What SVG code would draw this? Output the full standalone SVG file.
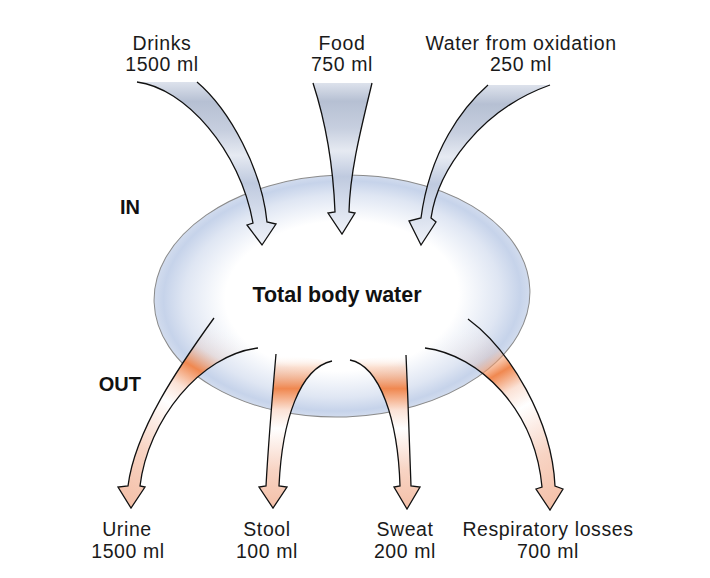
<svg xmlns="http://www.w3.org/2000/svg" width="710" height="578" viewBox="0 0 710 578">
<defs>
<radialGradient id="gBody" cx="0.5" cy="0.5" r="0.5">
<stop offset="0" stop-color="#ffffff"/>
<stop offset="0.62" stop-color="#ffffff"/>
<stop offset="0.84" stop-color="#dfe6f3"/>
<stop offset="0.95" stop-color="#c6d3ea"/>
<stop offset="1" stop-color="#d2dcee"/>
</radialGradient>
<linearGradient id="gIn" x1="0" y1="0" x2="0" y2="1">
<stop offset="0" stop-color="#dde2ec"/>
<stop offset="0.12" stop-color="#b6c0d3"/>
<stop offset="0.3" stop-color="#c7cfdf"/>
<stop offset="0.45" stop-color="#e6eaf2"/>
<stop offset="0.62" stop-color="#bfcadf"/>
<stop offset="0.82" stop-color="#d8dfed"/>
<stop offset="1" stop-color="#f0f3f9"/>
</linearGradient>
<linearGradient id="gUrine" gradientUnits="userSpaceOnUse" x1="236" y1="333" x2="131" y2="508">
<stop offset="0" stop-color="#ffffff" stop-opacity="0"/>
<stop offset="0.15" stop-color="#f6b08a" stop-opacity="0.2"/>
<stop offset="0.25" stop-color="#f08850"/>
<stop offset="0.36" stop-color="#fbe2d6"/>
<stop offset="0.46" stop-color="#ffffff"/>
<stop offset="0.72" stop-color="#f8d4c4"/>
<stop offset="1" stop-color="#f4c0a8"/>
</linearGradient>
<linearGradient id="gStool" gradientUnits="userSpaceOnUse" x1="0" y1="355" x2="0" y2="508">
<stop offset="0" stop-color="#ffffff" stop-opacity="0"/>
<stop offset="0.08" stop-color="#f6b08a" stop-opacity="0.4"/>
<stop offset="0.22" stop-color="#f08850"/>
<stop offset="0.36" stop-color="#fbe2d6"/>
<stop offset="0.48" stop-color="#ffffff"/>
<stop offset="0.75" stop-color="#f8d4c4"/>
<stop offset="1" stop-color="#f4c0a8"/>
</linearGradient>
<linearGradient id="gResp" gradientUnits="userSpaceOnUse" x1="446" y1="333" x2="550" y2="510">
<stop offset="0" stop-color="#ffffff" stop-opacity="0"/>
<stop offset="0.2" stop-color="#f6b08a" stop-opacity="0.2"/>
<stop offset="0.3" stop-color="#f08850"/>
<stop offset="0.4" stop-color="#fbe2d6"/>
<stop offset="0.5" stop-color="#ffffff"/>
<stop offset="0.75" stop-color="#f8d4c4"/>
<stop offset="1" stop-color="#f4c0a8"/>
</linearGradient>
</defs>
<style>
.lbl{font-family:"Liberation Sans",Arial,Helvetica,sans-serif;font-size:19.5px;letter-spacing:0.6px;fill:#1a1a1a;text-anchor:middle}
.bold{font-family:"Liberation Sans",Arial,Helvetica,sans-serif;font-weight:bold;fill:#111}
.edge{fill:none;stroke:#111;stroke-width:1.3;stroke-linejoin:miter}
.body{fill:url(#gBody);stroke:#8a8a8a;stroke-width:1}
.fin{fill:url(#gIn);stroke:none}
</style>
<rect width="710" height="578" fill="#ffffff"/>

<g id="total-body-water">
<ellipse class="body" cx="342" cy="296" rx="188" ry="121" transform="rotate(-2 342 296)"/>
</g>

<g id="connectors">
<g id="in-drinks">
<path class="fin" d="M137,82 C185,88 240,150 253,223 L247,225 L262,245 L276,224 L267,222 C262,170 230,110 197,82 Z"/>
<path class="edge" d="M137,82 C185,88 240,150 253,223 L247,225 L262,245 L276,224 L267,222 C262,170 230,110 197,82"/>
</g>
<g id="in-food">
<path class="fin" d="M313,83 C325,120 333,160 335,212 L328,213 L342,234 L355,213 L349,212 C350,170 362,125 372,83 Z"/>
<path class="edge" d="M313,83 C325,120 333,160 335,212 L328,213 L342,234 L355,213 L349,212 C350,170 362,125 372,83"/>
</g>
<g id="in-oxidation">
<path class="fin" d="M488,85 C463,107 430,150 421,218 L409,221 L421,245 L436,222 L431,218 C438,170 480,110 550,85 Z"/>
<path class="edge" d="M488,85 C463,107 430,150 421,218 L409,221 L421,245 L436,222 L431,218 C438,170 480,110 550,85"/>
</g>
<g id="out-urine">
<path fill="url(#gUrine)" d="M214,318 C180,365 135,430 128,486 L118,487 L131,508 L145,487 L140,486 C148,420 200,355 258,348 Z"/>
<path class="edge" d="M214,318 C180,365 135,430 128,486 L118,487 L131,508 L145,487 L140,486 C148,420 200,355 258,348"/>
</g>
<g id="out-stool">
<path fill="url(#gStool)" d="M276,354 C272,400 268,450 266,486 L259,487 L273,508 L287,487 L279,486 C282,420 300,368 332,361 Z"/>
<path class="edge" d="M276,354 C272,400 268,450 266,486 L259,487 L273,508 L287,487 L279,486 C282,420 300,368 332,361"/>
</g>
<g id="out-sweat">
<path fill="url(#gStool)" d="M350,360 C380,366 398,420 400,486 L394,487 L407,509 L420,487 L411,486 C410,450 408,400 406,355 Z"/>
<path class="edge" d="M350,360 C380,366 398,420 400,486 L394,487 L407,509 L420,487 L411,486 C410,450 408,400 406,355"/>
</g>
<g id="out-respiratory">
<path fill="url(#gResp)" d="M425,348 C480,355 535,410 542,487 L536,489 L550,510 L563,489 L555,486 C552,420 510,350 468,319 Z"/>
<path class="edge" d="M425,348 C480,355 535,410 542,487 L536,489 L550,510 L563,489 L555,486 C552,420 510,350 468,319"/>
</g>
</g>

<g id="body-label">
<text class="bold" x="337" y="302" font-size="21.5" text-anchor="middle">Total body water</text>
</g>
<g id="side-labels">
<text class="bold" x="120" y="214" font-size="20">IN</text>
<text class="bold" x="141" y="391" font-size="20" text-anchor="end">OUT</text>
</g>

<g id="src-drinks"><text class="lbl" x="162" y="50">Drinks</text><text class="lbl" x="162" y="71">1500 ml</text></g>
<g id="src-food"><text class="lbl" x="342" y="50">Food</text><text class="lbl" x="342" y="71">750 ml</text></g>
<g id="src-oxidation"><text class="lbl" x="521" y="50">Water from oxidation</text><text class="lbl" x="521" y="71">250 ml</text></g>

<g id="sink-urine"><text class="lbl" x="127" y="536">Urine</text><text class="lbl" x="128" y="558">1500 ml</text></g>
<g id="sink-stool"><text class="lbl" x="267" y="536">Stool</text><text class="lbl" x="267" y="558">100 ml</text></g>
<g id="sink-sweat"><text class="lbl" x="405" y="536">Sweat</text><text class="lbl" x="405" y="558">200 ml</text></g>
<g id="sink-respiratory"><text class="lbl" x="548" y="536">Respiratory losses</text><text class="lbl" x="548" y="558">700 ml</text></g>
</svg>
